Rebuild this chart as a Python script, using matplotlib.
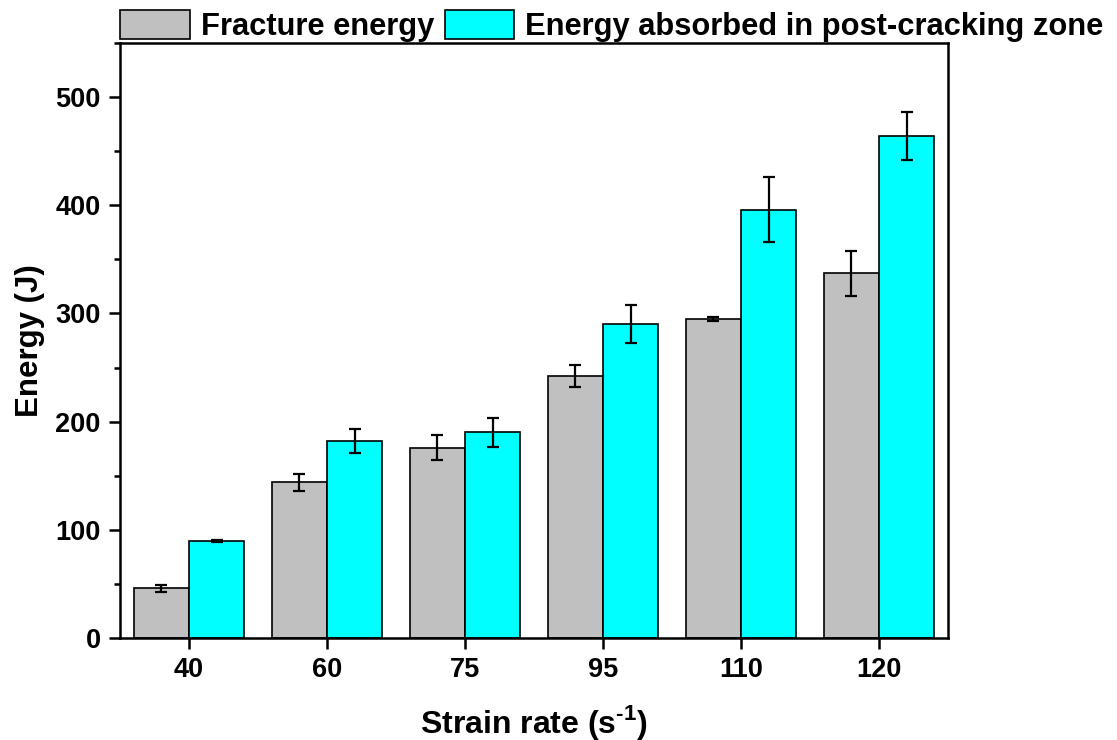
import numpy as np
import matplotlib.pyplot as plt
from matplotlib.ticker import MultipleLocator

plt.rcParams['font.family'] = ['Liberation Sans', 'DejaVu Sans']
plt.rcParams['font.weight'] = 'bold'
plt.rcParams['mathtext.fontset'] = 'custom'
plt.rcParams['mathtext.rm'] = 'Liberation Sans:bold'
plt.rcParams['mathtext.bf'] = 'Liberation Sans:bold'

# ---------------- DATA ----------------
strain_rates = ['40', '60', '75', '95', '110', '120']
fracture_energy = [46, 144, 176, 242, 295, 337]
fracture_err = [3, 8, 11.5, 10, 2, 20.5]
post_crack_energy = [90, 182, 190, 290, 396, 464]
post_crack_err = [1, 11, 13, 17.5, 30, 22]

# ---------------- DRAWING ----------------
fig = plt.figure(figsize=(11.17, 7.4), dpi=100)
ax = fig.add_axes([0.1074, 0.1378, 0.7413, 0.8041])

x = np.arange(len(strain_rates))
w = 0.4
err_kw = dict(ecolor='black', elinewidth=1.6, capsize=4.5, capthick=1.6)

ax.bar(x - w / 2, fracture_energy, w, yerr=fracture_err, color='#c0c0c0',
       edgecolor='black', linewidth=1.2, error_kw=err_kw, label='Fracture energy')
ax.bar(x + w / 2, post_crack_energy, w, yerr=post_crack_err, color='#00ffff',
       edgecolor='black', linewidth=1.2, error_kw=err_kw,
       label='Energy absorbed in post-cracking zone')

ax.set_xlim(-0.5, 5.5)
ax.set_ylim(0, 550)
ax.set_xticks(x)
ax.set_xticklabels(strain_rates)
ax.yaxis.set_major_locator(MultipleLocator(100))
ax.yaxis.set_minor_locator(MultipleLocator(50))

for s in ax.spines.values():
    s.set_linewidth(1.8)
ax.tick_params(axis='both', which='major', direction='out', length=8, width=1.8,
               labelsize=19.5, pad=6)
ax.tick_params(axis='y', which='minor', direction='out', length=4, width=1.8)
ax.tick_params(top=False, right=False)

ax.set_ylabel('Energy (J)', fontsize=22.5, fontweight='bold', labelpad=7)
ax.set_xlabel('Strain rate (s$^{\\text{-}1}$)', fontsize=23, fontweight='bold', labelpad=14)

fig.legend(loc='upper left', bbox_to_anchor=(0.091, 1.012), ncol=2, frameon=False,
           fontsize=22.2, handlelength=2.25, handleheight=1.1, handletextpad=0.36,
           columnspacing=0.36, borderaxespad=0.2)

fig.savefig('out.png', dpi=100)
